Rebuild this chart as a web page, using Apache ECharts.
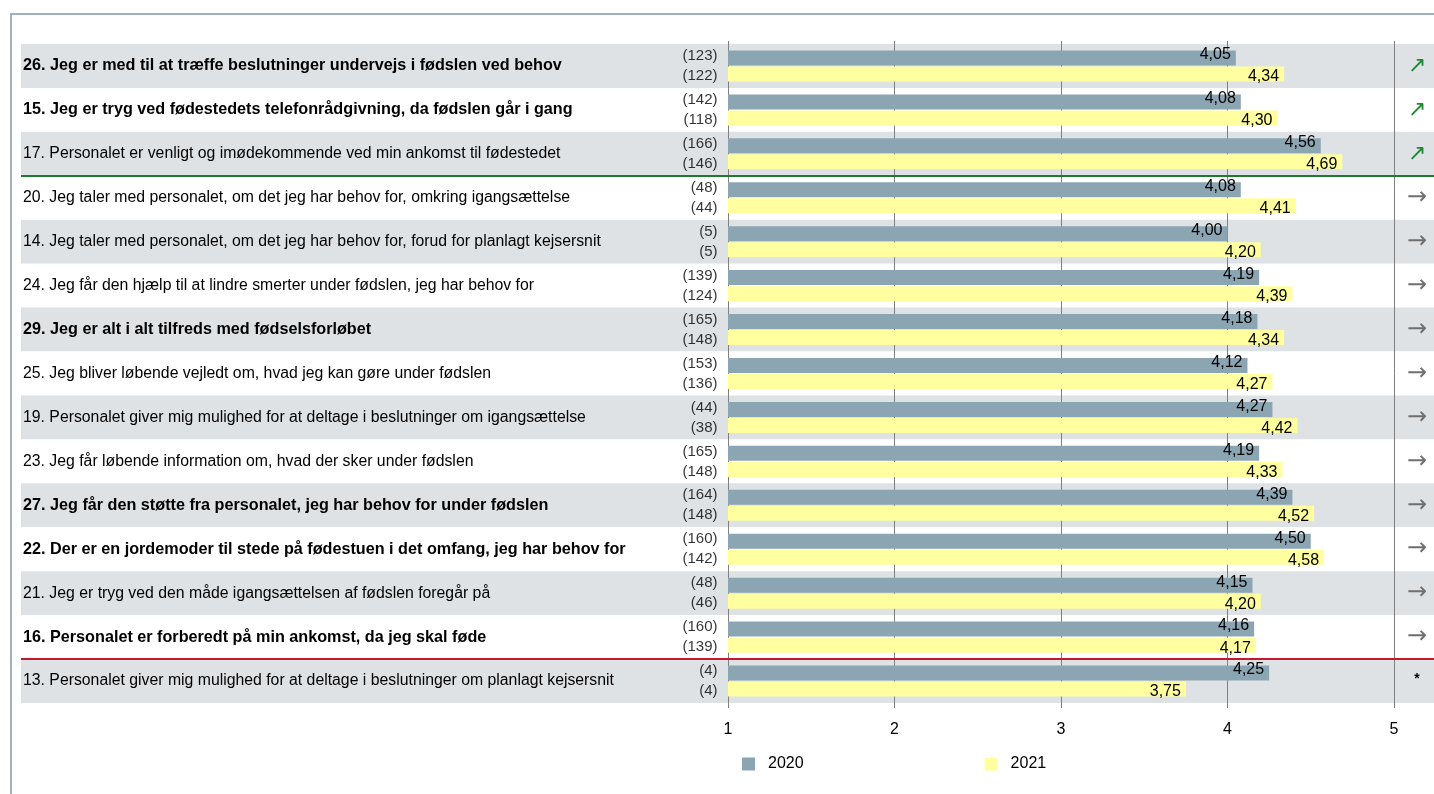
<!DOCTYPE html>
<html>
<head>
<meta charset="utf-8">
<script src="https://cdn.jsdelivr.net/npm/echarts@6/dist/echarts.min.js"></script>
<style>
  html, body { margin: 0; padding: 0; background: #ffffff; }
  #chart { width: 1434px; height: 794px; }
</style>
</head>
<body>
<div id="chart"></div>
<script>
// Survey items, top to bottom
const questions = [
  '26. Jeg er med til at træffe beslutninger undervejs i fødslen ved behov',
  '15. Jeg er tryg ved fødestedets telefonrådgivning, da fødslen går i gang',
  '17. Personalet er venligt og imødekommende ved min ankomst til fødestedet',
  '20. Jeg taler med personalet, om det jeg har behov for, omkring igangsættelse',
  '14. Jeg taler med personalet, om det jeg har behov for, forud for planlagt kejsersnit',
  '24. Jeg får den hjælp til at lindre smerter under fødslen, jeg har behov for',
  '29. Jeg er alt i alt tilfreds med fødselsforløbet',
  '25. Jeg bliver løbende vejledt om, hvad jeg kan gøre under fødslen',
  '19. Personalet giver mig mulighed for at deltage i beslutninger om igangsættelse',
  '23. Jeg får løbende information om, hvad der sker under fødslen',
  '27. Jeg får den støtte fra personalet, jeg har behov for under fødslen',
  '22. Der er en jordemoder til stede på fødestuen i det omfang, jeg har behov for',
  '21. Jeg er tryg ved den måde igangsættelsen af fødslen foregår på',
  '16. Personalet er forberedt på min ankomst, da jeg skal føde',
  '13. Personalet giver mig mulighed for at deltage i beslutninger om planlagt kejsersnit'
];
const boldItems = [true, true, false, false, false, false, true, false, false, false, true, true, false, true, false];

// Number of respondents
const n2020 = [123, 142, 166, 48, 5, 139, 165, 153, 44, 165, 164, 160, 48, 160, 4];
const n2021 = [122, 118, 146, 44, 5, 124, 148, 136, 38, 148, 148, 142, 46, 139, 4];

// Mean scores (scale 1-5)
const mean2020 = [4.05, 4.08, 4.56, 4.08, 4.00, 4.19, 4.18, 4.12, 4.27, 4.19, 4.39, 4.50, 4.15, 4.16, 4.25];
const mean2021 = [4.34, 4.30, 4.69, 4.41, 4.20, 4.39, 4.34, 4.27, 4.42, 4.33, 4.52, 4.58, 4.20, 4.17, 3.75];

// Development marker per item: up, flat, or too few answers
const trend = ['up', 'up', 'up', 'flat', 'flat', 'flat', 'flat', 'flat', 'flat', 'flat', 'flat', 'flat', 'flat', 'flat', 'few'];

const xTicks = [1, 2, 3, 4, 5];
const seriesNames = ['2020', '2021'];

// Group separators: item count above each line
const dividerRows = [3, 14];
const dividerColors = ['#1f7a30', '#c0182c'];

const FONT = '"Liberation Sans", Arial, sans-serif';
const fmt = v => v.toFixed(2).replace('.', ',');
const rowIdx = questions.map((q, i) => i);

const chart = echarts.init(document.getElementById('chart'));

const option = {
  animation: false,
  backgroundColor: '#ffffff',
  textStyle: { fontFamily: FONT },
  graphic: [{
    type: 'rect',
    shape: { x: 11, y: 14, width: 1600, height: 900 },
    style: { fill: 'none', stroke: '#9db1be', lineWidth: 2 },
    silent: true, z: -10
  }],
  grid: [
    { left: 728, right: 40, top: 44, bottom: 91 },
    { left: 21, right: 0, top: 44, bottom: 91 }
  ],
  legend: {
    data: seriesNames,
    left: 742, top: 756, padding: 0,
    icon: 'rect', itemWidth: 13, itemHeight: 13, itemGap: 181,
    textStyle: { fontSize: 16, color: '#000', fontFamily: FONT, padding: [0, 0, 0, 8] }
  },
  xAxis: [
    {
      gridIndex: 0, type: 'value', min: xTicks[0], max: xTicks[xTicks.length - 1], interval: 1,
      z: 1,
      axisLine: { show: false },
      axisTick: { show: true, length: 5, lineStyle: { color: '#7f7f7f' } },
      axisLabel: { fontSize: 16, color: '#000', margin: 19, fontFamily: FONT },
      splitLine: { show: true, lineStyle: { color: '#7f7f7f', width: 1 } }
    },
    {
      gridIndex: 0, type: 'value', position: 'top', min: xTicks[0], max: xTicks[xTicks.length - 1], interval: 1,
      axisLine: { show: false },
      axisTick: { show: true, length: 3, lineStyle: { color: '#7f7f7f' } },
      axisLabel: { show: false },
      splitLine: { show: false }
    },
    {
      gridIndex: 1, type: 'value', min: 0, max: 1, show: false
    }
  ],
  yAxis: [
    {
      gridIndex: 0, type: 'category', inverse: true, data: rowIdx,
      axisLine: { show: false }, axisTick: { show: false }, axisLabel: { show: false },
      splitLine: { show: false }
    },
    {
      gridIndex: 0, type: 'category', inverse: true, data: rowIdx, position: 'right',
      axisLine: { show: false }, axisTick: { show: false },
      axisLabel: {
        margin: 23, align: 'center',
        formatter: (v, i) => trend[i] === 'up' ? '{up|↗}' : trend[i] === 'flat' ? '{flat|→}' : '{few|*}',
        rich: {
          up: { color: '#1f8a34', fontSize: 22, fontFamily: '"DejaVu Sans", sans-serif' },
          flat: { color: '#707070', fontSize: 24, fontFamily: '"DejaVu Sans", sans-serif' },
          few: { color: '#000', fontSize: 14, fontFamily: FONT, fontWeight: 'bold', padding: [0, 0, 4, 0] }
        }
      }
    },
    {
      gridIndex: 1, type: 'category', inverse: true, data: questions, z: 0,
      axisLine: { show: false }, axisTick: { show: false },
      splitArea: { show: true, areaStyle: { color: ['#dfe2e5', '#ffffff'] } },
      axisLabel: {
        inside: true, margin: 2,
        formatter: (v, i) => (boldItems[i] ? '{b|' : '{n|') + v + '}',
        rich: {
          b: { fontSize: 16.2, fontWeight: 'bold', color: '#000', fontFamily: FONT },
          n: { fontSize: 15.8, color: '#000', fontFamily: FONT }
        }
      }
    },
    {
      gridIndex: 1, type: 'value', inverse: true, min: 0, max: questions.length, show: false
    }
  ],
  series: [
    {
      name: seriesNames[0], type: 'bar', xAxisIndex: 0, yAxisIndex: 0,
      data: mean2020, barWidth: 15, barGap: '7%',
      itemStyle: { color: '#8ca5b2' },
      label: {
        show: true, position: 'insideRight', distance: 5, offset: [0, -3],
        formatter: p => fmt(p.value), fontSize: 16, color: '#000', fontFamily: FONT
      }
    },
    {
      name: seriesNames[1], type: 'bar', xAxisIndex: 0, yAxisIndex: 0,
      data: mean2021, barWidth: 15,
      itemStyle: { color: '#ffffa0' },
      label: {
        show: true, position: 'insideRight', distance: 5, offset: [0, 3],
        formatter: p => fmt(p.value), fontSize: 16, color: '#000', fontFamily: FONT
      }
    },
    {
      name: 'n2020', type: 'scatter', xAxisIndex: 0, yAxisIndex: 0,
      data: n2020.map((n, i) => [xTicks[0], i, n]),
      symbolSize: 1, itemStyle: { color: 'rgba(0,0,0,0)' }, silent: true,
      label: {
        show: true, position: 'left', distance: 10, offset: [0, -10],
        formatter: p => '(' + p.value[2] + ')', fontSize: 15, color: '#000', fontFamily: FONT
      }
    },
    {
      name: 'n2021', type: 'scatter', xAxisIndex: 0, yAxisIndex: 0,
      data: n2021.map((n, i) => [xTicks[0], i, n]),
      symbolSize: 1, itemStyle: { color: 'rgba(0,0,0,0)' }, silent: true,
      label: {
        show: true, position: 'left', distance: 10, offset: [0, 10],
        formatter: p => '(' + p.value[2] + ')', fontSize: 15, color: '#000', fontFamily: FONT
      }
    },
    {
      name: 'dividers', type: 'line', xAxisIndex: 2, yAxisIndex: 3,
      data: [[0, 0]], showSymbol: false, lineStyle: { opacity: 0 }, silent: true,
      markLine: {
        silent: true, symbol: 'none', label: { show: false },
        data: dividerRows.map((r, k) => ({ yAxis: r, lineStyle: { color: dividerColors[k], width: 2, type: 'solid' } }))
      }
    }
  ]
};

chart.setOption(option);
</script>
</body>
</html>
